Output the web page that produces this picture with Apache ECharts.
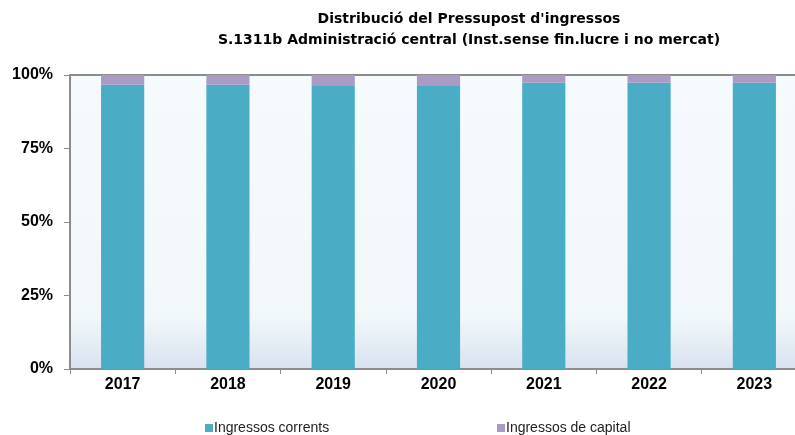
<!DOCTYPE html>
<html>
<head>
<meta charset="utf-8">
<script src="https://cdn.jsdelivr.net/npm/echarts@6/dist/echarts.min.js"></script>
<style>
  html, body { margin: 0; padding: 0; background: #fff; }
  #chart { width: 795px; height: 435px; }
</style>
</head>
<body>
<div id="chart"></div>
<script>
var years = ['2017', '2018', '2019', '2020', '2021', '2022', '2023']
// percentatges llegits del gràfic
var corrents = [96.7, 96.7, 96.3, 96.3, 97.4, 97.4, 97.4]
var capital = [3.3, 3.3, 3.7, 3.7, 2.6, 2.6, 2.6]
var yTicks = [0, 25, 50, 75, 100]

var font = 'Liberation Sans, Arial, sans-serif'
var chart = echarts.init(document.getElementById('chart'))

chart.setOption({
  animation: false,
  title: {
    text: "Distribució del Pressupost d'ingressos\nS.1311b Administració central (Inst.sense fin.lucre i no mercat)",
    left: 464,
    top: 4,
    textAlign: 'center',
    textStyle: {
      fontFamily: 'DejaVu Sans, sans-serif',
      fontSize: 14,
      fontWeight: 'bold',
      color: '#000',
      lineHeight: 21
    }
  },
  legend: [{
    data: ['Ingressos corrents'],
    icon: 'rect',
    left: 200,
    top: 416,
    itemWidth: 8,
    itemHeight: 8,
    textStyle: { fontFamily: font, fontSize: 14, color: '#222', padding: [0, 0, 0, -4] }
  }, {
    data: ['Ingressos de capital'],
    icon: 'rect',
    left: 492,
    top: 416,
    itemWidth: 8,
    itemHeight: 8,
    textStyle: { fontFamily: font, fontSize: 14, color: '#222', padding: [0, 0, 0, -4] }
  }],
  grid: {
    left: 70,
    top: 75,
    bottom: 66,
    width: 737,
    outerBoundsMode: 'none',
    show: true,
    borderWidth: 0,
    backgroundColor: {
      type: 'linear', x: 0, y: 0, x2: 0, y2: 1,
      colorStops: [
        { offset: 0, color: '#f5fbfc' },
        { offset: 0.82, color: '#f2f8fa' },
        { offset: 1, color: '#d8e2f0' }
      ]
    }
  },
  xAxis: [{
    type: 'category',
    data: years,
    axisLine: { lineStyle: { color: '#8c8c8c', width: 2 } },
    axisTick: { show: true, length: 5, lineStyle: { color: '#8c8c8c' } },
    axisLabel: {
      margin: 8,
      fontFamily: font,
      fontSize: 16,
      fontWeight: 'bold',
      color: '#000'
    }
  }, {
    type: 'category',
    data: years,
    position: 'top',
    axisLine: { lineStyle: { color: '#8c8c8c', width: 2 } },
    axisTick: { show: false },
    axisLabel: { show: false }
  }],
  yAxis: {
    type: 'value',
    min: yTicks[0],
    max: yTicks[yTicks.length - 1],
    interval: 25,
    axisLine: { show: true, lineStyle: { color: '#8c8c8c', width: 2 } },
    axisTick: { show: true, length: 6, lineStyle: { color: '#8c8c8c' } },
    splitLine: { show: false },
    axisLabel: {
      margin: 17,
      fontFamily: font,
      fontSize: 16,
      fontWeight: 'bold',
      color: '#000',
      formatter: '{value}%'
    }
  },
  series: [{
    name: 'Ingressos corrents',
    type: 'bar',
    stack: 'total',
    barCategoryGap: '59%',
    itemStyle: { color: '#4bacc6' },
    data: corrents
  }, {
    name: 'Ingressos de capital',
    type: 'bar',
    stack: 'total',
    itemStyle: { color: '#a99bc4' },
    data: capital
  }]
})
</script>
</body>
</html>
